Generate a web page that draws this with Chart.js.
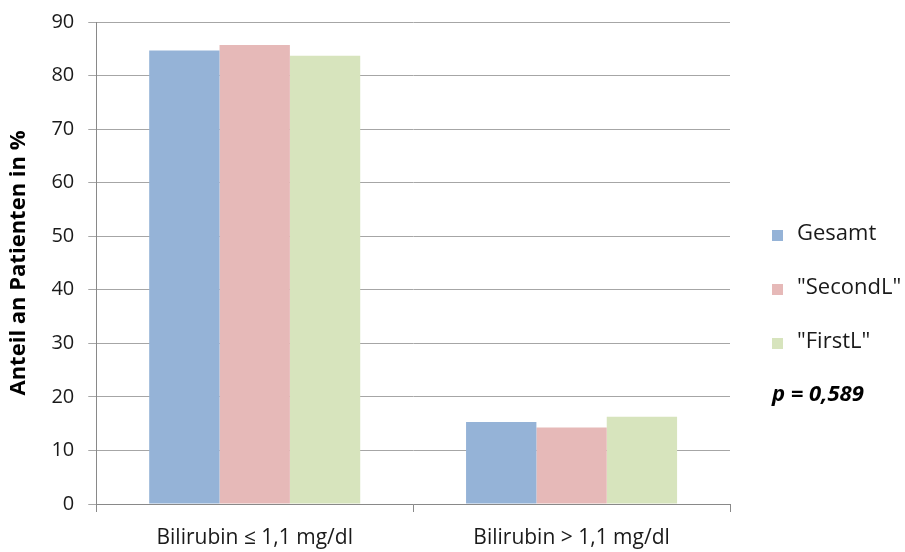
<!DOCTYPE html>
<html>
<head>
<meta charset="utf-8">
<script src="https://cdn.jsdelivr.net/npm/chart.js@4/dist/chart.umd.min.js"></script>
<style>
  html, body { margin: 0; padding: 0; background: #fff; }
  #wrap { width: 905px; height: 552px; position: relative; }
</style>
</head>
<body>
<div id="wrap"><canvas id="c" width="905" height="552"></canvas></div>
<script>
const categories = ['Bilirubin \u2264 1,1 mg/dl', 'Bilirubin > 1,1 mg/dl'];
const gesamt = [84.7, 15.3];
const secondL = [85.7, 14.3];
const firstL = [83.7, 16.3];
const seriesNames = ['Gesamt', '"SecondL"', '"FirstL"'];
const seriesColors = ['#95b3d7', '#e6b9b8', '#d7e4bd'];
const pValueText = 'p = 0,589';
const yTitle = 'Anteil an Patienten in %';

const FONT = '"Open Sans", sans-serif';

// Legend and p-value drawn beside the plot area
const sideLegend = {
  id: 'sideLegend',
  afterDraw(chart) {
    const ctx = chart.ctx;
    const x = chart.chartArea.right + 42;
    const rows = [235, 289, 343];
    ctx.save();
    ctx.font = '22px ' + FONT;
    ctx.textBaseline = 'middle';
    ctx.textAlign = 'left';
    chart.data.datasets.forEach((ds, i) => {
      ctx.fillStyle = ds.backgroundColor;
      ctx.fillRect(x, rows[i] - 5, 11, 11);
      ctx.fillStyle = '#1a1a1a';
      ctx.fillText(ds.label, x + 25, rows[i] - 1);
    });
    ctx.font = 'italic bold 22px ' + FONT;
    ctx.fillStyle = '#000';
    ctx.fillText(pValueText, x, 395);
    ctx.restore();
  }
};

new Chart(document.getElementById('c'), {
  type: 'bar',
  data: {
    labels: categories,
    datasets: [
      { label: seriesNames[0], data: gesamt, backgroundColor: seriesColors[0] },
      { label: seriesNames[1], data: secondL, backgroundColor: seriesColors[1] },
      { label: seriesNames[2], data: firstL, backgroundColor: seriesColors[2] }
    ]
  },
  options: {
    responsive: false,
    animation: false,
    devicePixelRatio: 1,
    layout: { padding: { left: 6, right: 175, top: 22, bottom: 3 } },
    datasets: { bar: { categoryPercentage: 0.666, barPercentage: 1.0 } },
    plugins: { legend: { display: false }, tooltip: { enabled: false } },
    scales: {
      x: {
        offset: true,
        // fixed band below the plot for tick marks and category labels
        afterFit(scale) { scale.height = 45; },
        grid: {
          offset: true,
          drawOnChartArea: false,
          drawTicks: true,
          tickLength: 8,
          color: '#898989'
        },
        border: { color: '#898989', width: 1 },
        ticks: { color: '#1a1a1a', font: { family: FONT, size: 21 }, padding: 13 }
      },
      y: {
        min: 0,
        max: 90,
        // let the layout padding alone place the plot's top and bottom edges
        afterFit(scale) { scale.paddingTop = 0; scale.paddingBottom = 0; },
        ticks: { stepSize: 10, color: '#1a1a1a', font: { family: FONT, size: 20 }, padding: 14 },
        grid: { color: '#a6a6a6', tickLength: 8, drawTicks: true },
        border: { color: '#898989', width: 1 },
        title: {
          display: true,
          text: yTitle,
          color: '#000',
          font: { family: FONT, size: 22, weight: 'bold' },
          padding: { top: 0, bottom: 5 }
        }
      }
    }
  },
  plugins: [sideLegend]
});
</script>
</body>
</html>
